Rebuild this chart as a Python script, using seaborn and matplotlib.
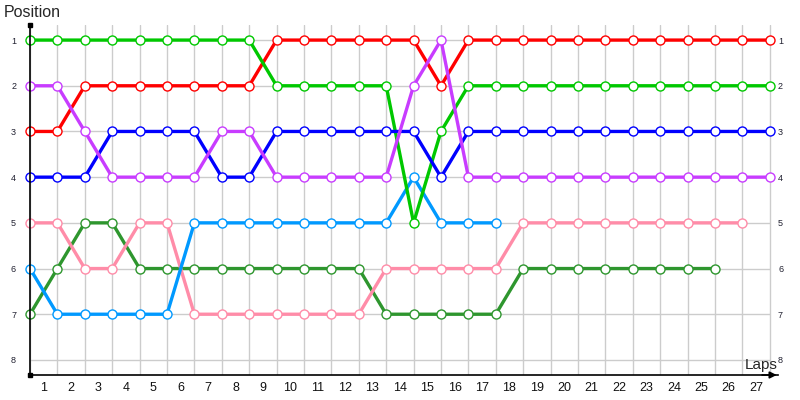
import numpy as np
import pandas as pd
import seaborn as sns
from matplotlib import pyplot as plt

# position after each lap (index 0 = start), one list per driver
red = [3, 3, 2, 2, 2, 2, 2, 2, 2, 1, 1, 1, 1, 1, 1, 2, 1, 1, 1, 1, 1, 1, 1, 1, 1, 1, 1, 1]
green = [1, 1, 1, 1, 1, 1, 1, 1, 1, 2, 2, 2, 2, 2, 5, 3, 2, 2, 2, 2, 2, 2, 2, 2, 2, 2, 2, 2]
blue = [4, 4, 4, 3, 3, 3, 3, 4, 4, 3, 3, 3, 3, 3, 3, 4, 3, 3, 3, 3, 3, 3, 3, 3, 3, 3, 3, 3]
purple = [2, 2, 3, 4, 4, 4, 4, 3, 3, 4, 4, 4, 4, 4, 2, 1, 4, 4, 4, 4, 4, 4, 4, 4, 4, 4, 4, 4]
light_blue = [6, 7, 7, 7, 7, 7, 5, 5, 5, 5, 5, 5, 5, 5, 4, 5, 5, 5]
pink = [5, 5, 6, 6, 5, 5, 7, 7, 7, 7, 7, 7, 7, 6, 6, 6, 6, 6, 5, 5, 5, 5, 5, 5, 5, 5, 5]
dark_green = [7, 6, 5, 5, 6, 6, 6, 6, 6, 6, 6, 6, 6, 7, 7, 7, 7, 7, 6, 6, 6, 6, 6, 6, 6, 6]

lap_labels = [str(i) for i in range(1, 28)]
positions = [1, 2, 3, 4, 5, 6, 7, 8]

series = {
    "dark_green": (dark_green, "#2e962e"),
    "pink": (pink, "#ff8ca8"),
    "light_blue": (light_blue, "#0099ff"),
    "red": (red, "#ff0000"),
    "green": (green, "#00c800"),
    "blue": (blue, "#0000ff"),
    "purple": (purple, "#c83cff"),
}

rows = []
for name, (vals, _) in series.items():
    for lap, pos in enumerate(vals):
        rows.append({"driver": name, "lap": lap, "pos": pos})
df = pd.DataFrame(rows)

sns.set_theme(style="white")
plt.rcParams["font.family"] = ["Liberation Sans", "DejaVu Sans"]

fig = plt.figure(figsize=(8, 4), dpi=100)
ax = fig.add_axes([30 / 800, 25 / 400, 748 / 800, 350 / 400])

n_laps = len(lap_labels)
ax.set_xlim(0, n_laps + 0.3)
ax.set_ylim(8.33, 0.67)

# grid
ax.set_xticks(np.arange(n_laps + 1), minor=True)
ax.grid(which="minor", axis="x", color="#cccccc", lw=1)
ax.grid(which="major", visible=False)
ax.hlines(positions, 0, n_laps, color="#cccccc", lw=1, zorder=0)
ax.set_axisbelow(True)

for name, (vals, color) in series.items():
    sns.lineplot(
        data=df[df["driver"] == name], x="lap", y="pos", ax=ax,
        color=color, lw=2.4, marker="o", markersize=6.5,
        markerfacecolor="white", markeredgecolor=color, markeredgewidth=1.0,
        legend=False, clip_on=False,
    )

ax.set_xlabel("")
ax.set_ylabel("")

ax.set_xticks(np.arange(n_laps) + 0.5)
ax.set_xticklabels(lap_labels)
ax.tick_params(axis="x", which="both", length=0, labelsize=9, pad=5, colors="#111111")

ax.set_yticks(positions)
ax.set_yticklabels([str(p) for p in positions])
ax.tick_params(axis="y", length=0, labelsize=6.5, pad=10, colors="#202030")

sec = ax.secondary_yaxis("right")
sec.set_yticks(positions)
sec.set_yticklabels([str(p) for p in positions])
sec.tick_params(axis="y", length=0, labelsize=6.5, pad=0, colors="#202030")
sec.spines["right"].set_visible(False)

for s in ["top", "right"]:
    ax.spines[s].set_visible(False)
for s in ["left", "bottom"]:
    ax.spines[s].set_color("black")
    ax.spines[s].set_linewidth(1.2)

ax.plot([0, 0], [1, 0], "s", color="black", ms=2.5, transform=ax.transAxes, clip_on=False)
ax.annotate("", xy=(1.002, 0), xytext=(0.975, 0), xycoords="axes fraction",
            arrowprops=dict(arrowstyle="-|>", color="black", lw=1.2, mutation_scale=10))

ax.annotate("Laps", xy=(1, 0), xycoords="axes fraction", xytext=(0, 4.5),
            textcoords="offset points", ha="right", va="baseline", fontsize=11)
fig.text(4 / 800, 1 - 5 / 400, "Position", ha="left", va="top", fontsize=11.5)

fig.savefig("out.png", dpi=100)
